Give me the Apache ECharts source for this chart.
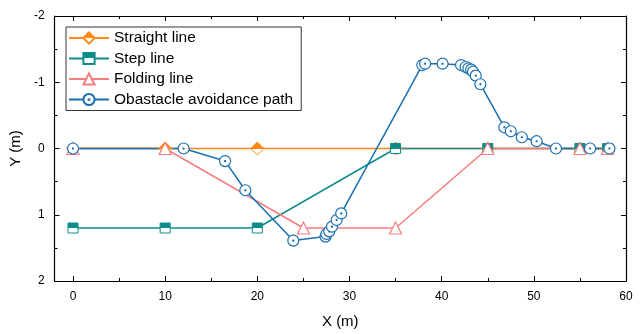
<!DOCTYPE html>
<html>
<head>
<meta charset="utf-8">
<script src="https://cdn.jsdelivr.net/npm/echarts@6/dist/echarts.min.js"></script>
<style>html,body{margin:0;padding:0;background:#fff}#c{width:642px;height:334px}</style>
</head>
<body>
<div id="c"></div>
<script>
const xMajorTicks = [0, 10, 20, 30, 40, 50, 60];
const xMinorTicks = [5, 15, 25, 35, 45, 55];
const yTicks = [-2, -1, 0, 1, 2];

const straightX = [0, 10, 20, 35, 45, 55, 58];
const straightY = [0, 0, 0, 0, 0, 0, 0];
const stepX = [0, 10, 20, 35, 45, 55, 58];
const stepY = [1.2, 1.2, 1.2, 0, 0, 0, 0];
const foldX = [0, 10, 25, 35, 45, 55, 58];
const foldY = [0, 0, 1.2, 1.2, 0, 0, 0];
const pathX = [0, 12, 16.5, 18.7, 23.9, 27.4, 27.5, 27.8, 28.1, 28.6, 29.1,
  37.9, 38.2, 40.1, 42.1, 42.6, 42.9, 43.2, 43.4, 43.7, 44.2,
  46.8, 47.5, 48.7, 50.3, 52.4, 56.1, 58.2];
const pathY = [0, 0, 0.19, 0.63, 1.39, 1.33, 1.29, 1.25, 1.18, 1.08, 0.98,
  -1.26, -1.28, -1.28, -1.26, -1.23, -1.21, -1.19, -1.16, -1.1, -0.97,
  -0.32, -0.26, -0.17, -0.11, 0, 0, 0];
const names = ['Straight line', 'Step line', 'Folding line', 'Obastacle avoidance path'];

const cOrange = '#FF8A12', cTeal = '#0E8C8C', cSalmon = '#F77C7C', cBlue = '#1A6FB0';
const zip = (a, b) => a.map((v, i) => [v, b[i]]);
const half = c => ({type: 'linear', x: 0, y: 0, x2: 0, y2: 1, colorStops: [
  {offset: 0, color: c}, {offset: 0.5, color: c}, {offset: 0.5, color: '#fff'}, {offset: 1, color: '#fff'}]});
const dotCircle = 'path://M0,10A10,10 0 1,1 20,10A10,10 0 1,1 0,10ZM9,10A1,1 0 1,1 11,10A1,1 0 1,1 9,10Z';

const font = 'Liberation Sans, Arial, sans-serif';
const axisLine = {show: true, onZero: false, lineStyle: {color: '#000', width: 1.2}};
const noLine = {show: false, onZero: false};
const baseX = {type: 'value', min: -2, max: 60, splitLine: {show: false}};
const chart = echarts.init(document.getElementById('c'));
chart.setOption({
  animation: false,
  backgroundColor: '#fff',
  grid: {left: 53, right: 16, top: 16, bottom: 49},
  legend: {
    left: 66, top: 27, orient: 'vertical', itemWidth: 40, itemHeight: 14, itemGap: 4.5,
    padding: [3, 8, 3, 2], borderColor: '#333', borderWidth: 1, selectedMode: false,
    textStyle: {fontFamily: font, fontSize: 15.5, color: '#000'}, itemTextGap: 4,
    data: names
  },
  xAxis: [
    Object.assign({}, baseX, {position: 'bottom', axisLine,
      axisTick: {show: true, inside: true, length: 5, customValues: xMajorTicks, lineStyle: {color: '#000'}},
      axisLabel: {customValues: xMajorTicks, fontFamily: font, fontSize: 12, color: '#000', margin: 10},
      name: 'X (m)', nameLocation: 'middle', nameGap: 33,
      nameTextStyle: {fontFamily: font, fontSize: 15, color: '#000'}}),
    Object.assign({}, baseX, {position: 'bottom', axisLine: noLine,
      axisTick: {show: true, inside: true, length: 3, customValues: xMinorTicks, lineStyle: {color: '#000'}},
      axisLabel: {show: false}}),
    Object.assign({}, baseX, {position: 'top', axisLine,
      axisTick: {show: true, inside: true, length: 5, customValues: xMajorTicks, lineStyle: {color: '#000'}},
      axisLabel: {show: false}}),
    Object.assign({}, baseX, {position: 'top', axisLine: noLine,
      axisTick: {show: true, inside: true, length: 3, customValues: xMinorTicks, lineStyle: {color: '#000'}},
      axisLabel: {show: false}})
  ],
  yAxis: [
    {type: 'value', position: 'left', inverse: true, min: -2, max: 2, interval: 1, axisLine,
      splitLine: {show: false},
      axisTick: {show: true, inside: true, length: 5, lineStyle: {color: '#000'}},
      minorTick: {show: true, splitNumber: 2, length: 3, lineStyle: {color: '#000'}},
      axisLabel: {fontFamily: font, fontSize: 12, color: '#000', margin: 10},
      name: 'Y (m)', nameLocation: 'middle', nameGap: 22,
      nameTextStyle: {fontFamily: font, fontSize: 15, color: '#000'}},
    {type: 'value', position: 'right', inverse: true, min: -2, max: 2, interval: 1, axisLine,
      splitLine: {show: false},
      axisTick: {show: true, inside: true, length: 5, lineStyle: {color: '#000'}},
      minorTick: {show: true, splitNumber: 2, length: 3, lineStyle: {color: '#000'}},
      axisLabel: {show: false}}
  ],
  series: [
    {name: names[0], type: 'line', data: zip(straightX, straightY), symbol: 'diamond', symbolSize: 13,
      lineStyle: {color: cOrange, width: 1.5}, itemStyle: {color: half(cOrange), borderColor: cOrange, borderWidth: 1}},
    {name: names[1], type: 'line', data: zip(stepX, stepY), symbol: 'rect', symbolSize: 10,
      lineStyle: {color: cTeal, width: 1.5}, itemStyle: {color: half(cTeal), borderColor: cTeal, borderWidth: 1}},
    {name: names[2], type: 'line', data: zip(foldX, foldY), symbol: 'triangle', symbolSize: 12,
      lineStyle: {color: cSalmon, width: 1.5}, itemStyle: {color: '#fff', borderColor: cSalmon, borderWidth: 1.2}},
    {name: names[3], type: 'line', data: zip(pathX, pathY), symbol: dotCircle, symbolSize: 11,
      lineStyle: {color: cBlue, width: 1.5}, itemStyle: {color: '#fff', borderColor: cBlue, borderWidth: 1.2}}
  ]
});
</script>
</body>
</html>
